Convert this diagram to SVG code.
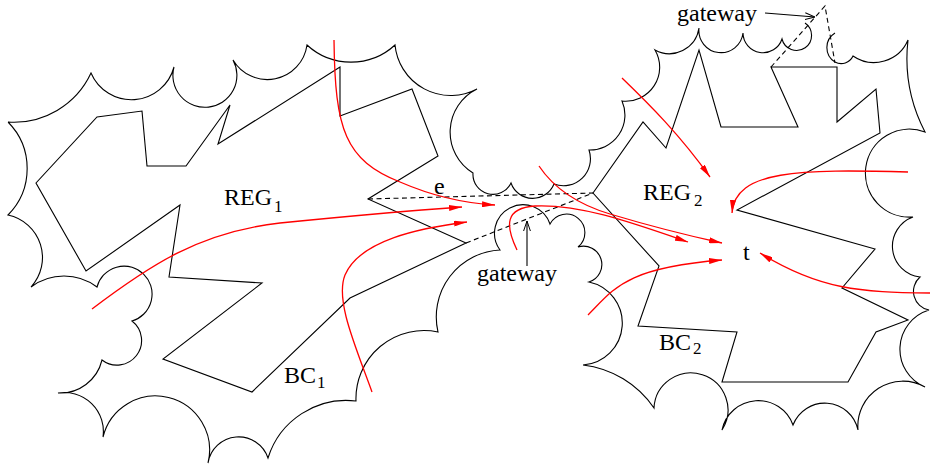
<svg xmlns="http://www.w3.org/2000/svg" width="930" height="470" viewBox="0 0 930 470">
<style>
.ln{fill:none;stroke:#000;stroke-width:1.1}
.ds{fill:none;stroke:#000;stroke-width:1.1;stroke-dasharray:5,3.5}
.rd{fill:none;stroke:#ff0000;stroke-width:1.3;marker-end:url(#redhead)}
.bk{fill:none;stroke:#000;stroke-width:1.1;marker-end:url(#openhead)}
text{font-family:"Liberation Serif","Times New Roman",serif;font-size:24px;fill:#000}
.sub{font-size:17px}
</style>
<defs>
<marker id="redhead" viewBox="0 0 13 6" refX="13" refY="3" markerWidth="13" markerHeight="6" markerUnits="userSpaceOnUse" orient="auto"><path d="M0,0 L13,3 L0,6 Z" fill="#ff0000"/></marker>
<marker id="openhead" viewBox="0 0 10 8" refX="10" refY="4" markerWidth="10" markerHeight="8" markerUnits="userSpaceOnUse" orient="auto"><path d="M0,0.6 L10,4 L0,7.4" fill="none" stroke="#000" stroke-width="1"/></marker>
</defs>
<rect width="930" height="470" fill="#fff"/>
<g id="boundary">
<path class="ln" d="M8,122 A85,85 0 0 0 91,73 A44,44 0 0 0 174,67 A32,32 0 1 0 233,60 A40,40 0 0 0 307,45 A65,65 0 0 0 395,45 A56,56 0 0 0 477,89 A48,48 0 0 0 473,173 A20,20 0 0 0 511,183 A23,23 0 0 0 554,184 A27,27 0 0 0 589,150 A35,35 0 0 0 622,101 A34,34 0 0 0 655,50 A30,30 0 0 0 699,28 A22,22 0 0 0 743,33 A20,20 0 0 0 782,39 A15,15 0 1 0 805,23 M835,33 A17,17 0 0 0 835,62 A13,13 0 0 0 853,56 A37,37 0 0 0 908,40 A160,160 0 0 0 925,132 A44,44 0 1 0 913,217 A31,31 0 0 0 920,277 A19,19 0 0 0 929,310 A41,41 0 0 0 925,387 A45,45 0 0 0 858,430 A34,34 0 0 0 793,425 A37,37 0 0 0 722,430 A37,37 0 1 0 654,408 A100,100 0 0 0 583,365 A42,42 0 0 0 589,282 A18,18 0 0 0 578,247 A18.5,18.5 0 1 0 550,224 A28.5,28.5 0 1 0 500,250 A67,67 0 0 0 438,332 A68,68 0 0 0 356,401 A82,82 0 0 0 268,458 A31,31 0 0 0 208,463 A54,54 0 1 0 103,437 A39,39 0 0 0 58,393 A43,43 0 0 0 102,360 A24,24 0 0 0 132,321 A28,28 0 1 0 97,287 A55,55 0 0 0 31,287 A43.5,43.5 0 0 0 8,215 A66,66 0 0 0 8,122"/>
</g>
<g id="region1">
<path class="ln" d="M97,117 L142,111 L147,166 L186,166 L230,105 L218,144 L340,67 L340,116 L412,89 L438,156 L368,199 L466,243 L350,298 L252,392 L163,359 L262,283 L169,277 L180,205 L86,271 L36,183 Z"/>
<text x="224" y="205">REG</text><text class="sub" x="274" y="212">1</text>
<text x="284" y="383">BC</text><text class="sub" x="317" y="388">1</text>
</g>
<g id="region2">
<path class="ln" d="M593,193 L643,122 L666,148 L699,50 L721,127 L798,127 L771,67 L837,67 L837,122 L876,89 L880,133 L737,210 L875,249 L842,288 L908,320 L876,332 L848,382 L722,382 L737,332 L638,326 L659,266 Z"/>
<text x="643" y="200">REG</text><text class="sub" x="694" y="206">2</text>
<text x="659" y="350">BC</text><text class="sub" x="693" y="354">2</text>
</g>
<g id="gateways">
<path class="ds" d="M368,199 L593,193"/>
<path class="ds" d="M466,243 L593,193"/>
<path class="ds" d="M771,67 L825,6 L835,63"/>
<text x="434" y="194">e</text>
<text x="743" y="260">t</text>
<text x="477" y="281">gateway</text>
<text x="677" y="21">gateway</text>
</g>
<g id="connectors">
<path class="bk" d="M527,266 L527,221"/>
<path class="bk" d="M765,13 L815,17"/>
<path class="rd" d="M334,40 C335,130 345,160 400,182 C430,195 460,203 495,205"/>
<path class="rd" d="M92,309 C150,265 200,232 280,223 C360,215 420,210 462,207"/>
<path class="rd" d="M372,392 C355,345 335,300 345,275 C360,240 420,228 467,222"/>
<path class="rd" d="M539,166 C555,190 580,205 610,214 C650,226 690,236 722,243"/>
<path class="rd" d="M517,250 C505,225 505,208 535,206 C580,204 630,222 688,242"/>
<path class="rd" d="M622,78 C650,105 680,135 710,177"/>
<path class="rd" d="M908,172 C800,169 735,170 732,213"/>
<path class="rd" d="M930,293 C860,292 820,290 760,253"/>
<path class="rd" d="M588,315 C615,288 625,268 722,260"/>
</g>
</svg>
